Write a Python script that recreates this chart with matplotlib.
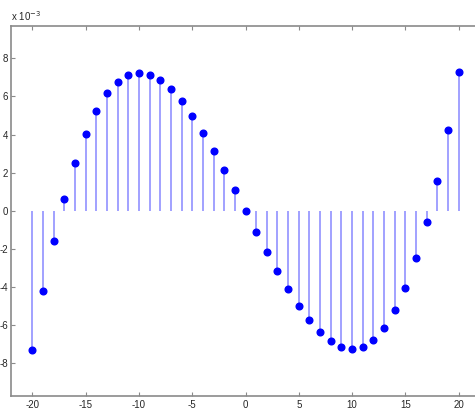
import matplotlib
matplotlib.use("Agg")
import matplotlib.pyplot as plt
import numpy as np

n = list(range(-20, 21))
y_e3 = [-7.31, -4.23, -1.57, 0.61, 2.49, 4.03, 5.23, 6.16, 6.77, 7.14,
        7.24, 7.14, 6.85, 6.37, 5.74, 4.97, 4.09, 3.15, 2.14, 1.09,
        0.0,
        -1.09, -2.14, -3.14, -4.09, -4.97, -5.72, -6.35, -6.85, -7.14,
        -7.24, -7.14, -6.76, -6.14, -5.23, -4.03, -2.49, -0.61, 1.57, 4.23, 7.31]
xticks = [-20, -15, -10, -5, 0, 5, 10, 15, 20]
yticks = [-8, -6, -4, -2, 0, 2, 4, 6, 8]

plt.rcParams['font.family'] = ['Liberation Sans', 'DejaVu Sans']

W, H = 475, 412
fig = plt.figure(figsize=(W / 100, H / 100), dpi=100)
fig.patch.set_facecolor('white')
left, right, top, bottom = 11, 480, 26, 396
ax = fig.add_axes([left / W, (H - bottom) / H, (right - left) / W, (bottom - top) / H])

y = np.array(y_e3) * 1e-3
ml, sl, bl = ax.stem(n, y)
plt.setp(sl, color='#9a9aff', linewidth=1.3)
plt.setp(ml, color='#0000ff', markersize=4.8, markeredgecolor='#0000ff')
bl.set_visible(False)

ax.set_xlim(-22, 22)
ax.set_ylim(-9.72e-3, 9.70e-3)
ax.set_xticks(xticks)
ax.set_xticklabels([str(t) for t in xticks])
ax.set_yticks([t * 1e-3 for t in yticks])
ax.set_yticklabels([str(t) for t in yticks])

for s in ax.spines.values():
    s.set_color('#8a8a8a')
    s.set_linewidth(1.2)
ax.tick_params(direction='in', length=3, width=0.8, color='#8a8a8a',
               labelsize=7, labelcolor='#262626', top=True, right=True)
ax.tick_params(axis='x', pad=3)
ax.tick_params(axis='y', pad=2)

fig.text(left / W, (H - 23) / H, r'x 10$^{-3}$', fontsize=7, color='#262626',
         ha='left', va='bottom')

fig.savefig('out.png', dpi=100)
